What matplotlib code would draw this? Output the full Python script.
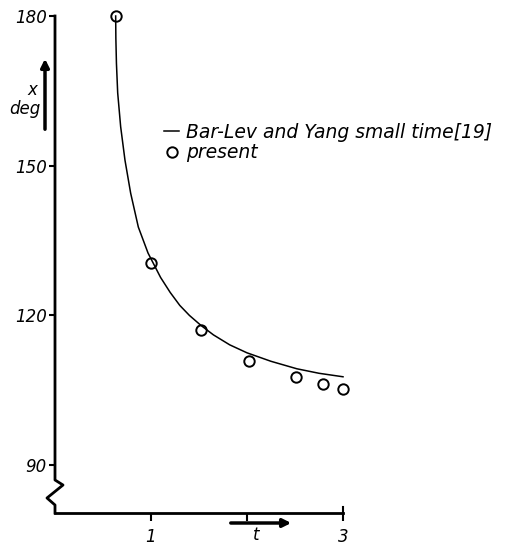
import matplotlib.pyplot as plt

# Bar-Lev and Yang small time curve
t_curve = [0.632, 0.634, 0.640, 0.653, 0.684, 0.729, 0.788, 0.868, 0.969, 1.1, 1.2, 1.3, 1.4, 1.52, 1.65, 1.82, 2.0, 2.25, 2.52, 2.75, 3.0]
x_curve = [180.0, 175.5, 170.5, 164.6, 157.8, 151.1, 144.5, 137.7, 132.5, 127.6, 124.6, 122.0, 120.0, 118.0, 116.1, 114.1, 112.5, 110.8, 109.3, 108.4, 107.7]

# present results
t_pts = [0.632, 1.0, 1.52, 2.02, 2.51, 2.79, 3.0]
x_pts = [180.0, 130.5, 117.1, 110.9, 107.7, 106.3, 105.3]

y_ticks = [90, 120, 150, 180]
x_ticks = [1, 2, 3]
x_tick_labels = ["1", "", "3"]

W, H = 506, 547
fig = plt.figure(figsize=(W / 100, H / 100), dpi=100)
ax = fig.add_axes([55 / W, 1 - 513 / H, 288 / W, 497 / H])

ax.plot(t_curve, x_curve, color="black", lw=1.1, clip_on=False,
        label="Bar-Lev and Yang small time[19]")
ax.plot(t_pts, x_pts, "o", ms=7.5, mfc="none", mec="black", mew=1.4, clip_on=False,
        label="present")

ax.set_xlim(0, 3)
ax.set_ylim(80.4, 180)

# axes: left spine drawn by hand with a break
for s in ["top", "right", "left"]:
    ax.spines[s].set_visible(False)
ax.spines["bottom"].set_linewidth(2)
ax.plot([0, 0, 0.0278, -0.0278, 0, 0], [1, 0.0664, 0.0563, 0.0302, 0.0161, 0],
        transform=ax.transAxes, color="black", lw=2, clip_on=False)
ax.plot([1, 1], [0, 0.012], transform=ax.transAxes, color="black", lw=1.5, clip_on=False)

ax.set_yticks(y_ticks)
ax.set_xticks(x_ticks)
ax.set_xticklabels(x_tick_labels)
ax.tick_params(axis="y", direction="out", length=4, width=1.5, pad=2, labelsize=12)
ax.tick_params(axis="x", direction="out", length=6, width=1.5, pad=5, labelsize=12)
for lab in ax.get_xticklabels() + ax.get_yticklabels():
    lab.set_fontstyle("italic")

# axis labels with arrows
fig.text(32 / W, 1 - 90 / H, "x", ha="center", va="center", fontsize=12, style="italic")
fig.text(25 / W, 1 - 109 / H, "deg", ha="center", va="center", fontsize=12, style="italic")
ax.annotate("", xy=(45 / W, 1 - 56 / H), xytext=(45 / W, 1 - 132 / H),
            xycoords="figure fraction", textcoords="figure fraction",
            arrowprops=dict(arrowstyle="-|>", lw=2.5, color="black", mutation_scale=12))
ax.annotate("", xy=(294 / W, 1 - 523 / H), xytext=(228 / W, 1 - 523 / H),
            xycoords="figure fraction", textcoords="figure fraction",
            arrowprops=dict(arrowstyle="-|>", lw=2.5, color="black", mutation_scale=12))
fig.text(256 / W, 1 - 535 / H, "t", ha="center", va="center", fontsize=12, style="italic")

ax.legend(loc="upper left", bbox_to_anchor=(164 / W, 1 - 123 / H), bbox_transform=fig.transFigure,
          frameon=False, handlelength=0.8, handletextpad=0.35, borderpad=0, borderaxespad=0,
          labelspacing=0.08, prop={"style": "italic", "size": 13.5})

fig.savefig("out.png", dpi=100)
